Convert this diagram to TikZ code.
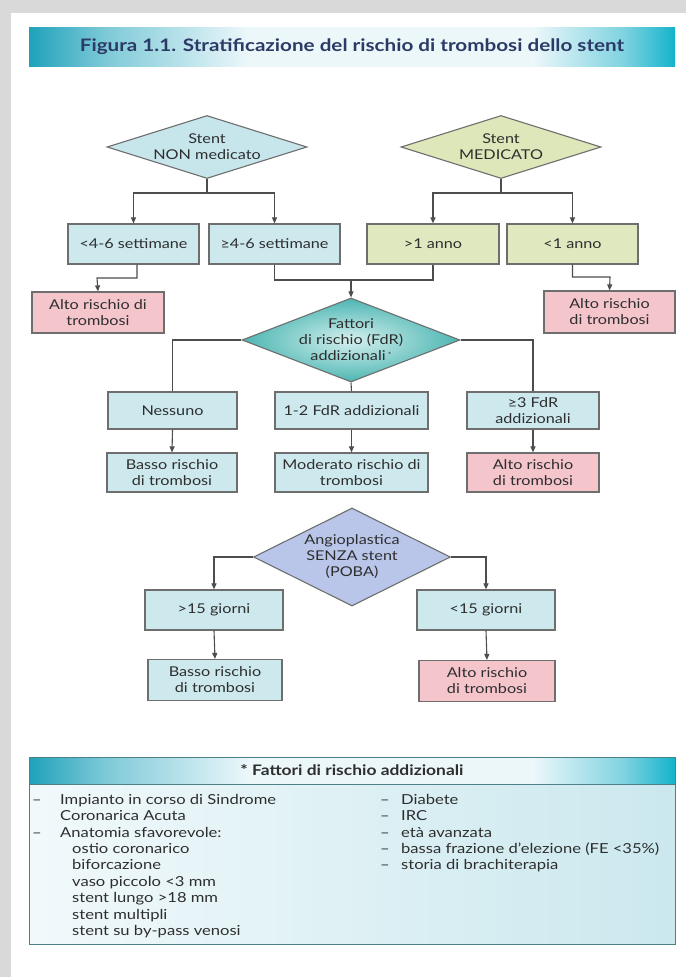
\documentclass[tikz,border=0pt]{standalone}
\usepackage{fontspec}
\setmainfont{Lato}[FakeStretch=1.2]
\usetikzlibrary{shapes.geometric,arrows.meta}
\definecolor{lineC}{HTML}{4D4D4D}
\definecolor{borderC}{HTML}{6E6E6E}
\definecolor{boxBlue}{HTML}{CDE9EE}
\definecolor{boxGreen}{HTML}{DFE8BF}
\definecolor{boxPink}{HTML}{F5C5CC}
\definecolor{dmdBlue}{HTML}{C6E6EC}
\definecolor{dmdGreen}{HTML}{DDE7B9}
\definecolor{dmdLav}{HTML}{B9C6E9}
\definecolor{fdrIn}{HTML}{D4F0EF}
\definecolor{fdrOut}{HTML}{4DB6B2}
\definecolor{tealDark}{HTML}{1FA2BA}
\definecolor{tealMidL}{HTML}{7FCAD8}
\definecolor{tealBright}{HTML}{14B3CB}
\definecolor{tealMidR}{HTML}{7FD3E0}
\definecolor{tealPale}{HTML}{ECF7FA}
\definecolor{navy}{HTML}{2C3A66}
\definecolor{txt}{HTML}{2E2E2E}
\definecolor{pageGray}{HTML}{D9D9D9}
\definecolor{footBorder}{HTML}{4E8088}
\definecolor{footL}{HTML}{F1F9FB}
\definecolor{footR}{HTML}{CBE8EE}
\pgfdeclarehorizontalshading{barshade}{100bp}{color(0bp)=(tealDark); color(25bp)=(tealDark); color(31bp)=(tealMidL); color(42bp)=(tealPale); color(64bp)=(tealPale); color(71bp)=(tealMidR); color(75bp)=(tealBright); color(100bp)=(tealBright)}
\newcommand{\bxfont}{\fontsize{13.5}{16}\selectfont}
\newcommand{\ftfont}{\fontsize{13.8}{16.4}\selectfont}
\begin{document}
\begin{tikzpicture}[x=1pt,y=-1pt,
  conn/.style={draw=lineC,line width=1.1pt},
  arr/.style={conn,-{Triangle[length=6pt,width=5pt]}},
  box/.style={rectangle,draw=borderC,line width=1.2pt,inner sep=0pt,align=center,font=\bxfont,text=txt},
  bluebox/.style={box,fill=boxBlue},
  greenbox/.style={box,fill=boxGreen},
  pinkbox/.style={box,fill=boxPink},
  dmd/.style={diamond,draw=borderC,line width=1.1pt,inner sep=-14pt,align=center,font=\bxfont,text=txt},
]
\useasboundingbox (0,0) rectangle (686,977);
\fill[pageGray] (0,0) rectangle (686,977);
\fill[white] (11,13) rectangle (686,977);

% title
\node[shade,shading=barshade,minimum width=646pt,minimum height=39pt,inner sep=0pt,
      font=\fontsize{17.2}{20}\selectfont\bfseries,text=navy] (title) at (352,46.5)
      {Figura 1.1. Stratificazione del rischio di trombosi dello stent};

% top diamonds
\node[dmd,fill=dmdBlue,minimum width=200pt,minimum height=63pt,aspect=3.2] (nonmed) at (207,147) {Stent\\NON medicato};
\node[dmd,fill=dmdGreen,minimum width=200pt,minimum height=63pt,aspect=3.2] (med) at (501,147) {Stent\\MEDICATO};

% row 1
\node[bluebox,minimum width=131pt,minimum height=40pt] (b1) at (133.5,244) {<4-6 settimane};
\node[bluebox,minimum width=131pt,minimum height=40pt] (b2) at (274.5,244) {≥4-6 settimane};
\node[greenbox,minimum width=132pt,minimum height=40pt] (b3) at (433,244) {>1 anno};
\node[greenbox,minimum width=131pt,minimum height=40pt] (b4) at (572.5,244) {<1 anno};

\node[pinkbox,minimum width=132pt,minimum height=41pt] (r1) at (98,312.5) {Alto rischio di\\trombosi};
\node[pinkbox,minimum width=131pt,minimum height=42pt] (r2) at (609.5,312) {Alto rischio\\di trombosi};

% FdR diamond
\node[dmd,inner color=fdrIn,outer color=fdrOut,minimum width=218pt,minimum height=84pt,aspect=2.6] (fdr) at (351,340)
  {Fattori\\di rischio (FdR)\\addizionali\,\raisebox{3pt}{\scriptsize*}};

\node[bluebox,minimum width=129pt,minimum height=37pt] (n1) at (172.5,410.5) {Nessuno};
\node[bluebox,minimum width=153pt,minimum height=37pt] (n2) at (351.5,410.5) {1-2 FdR addizionali};
\node[bluebox,minimum width=132pt,minimum height=37pt] (n3) at (533,410.5) {≥3 FdR\\addizionali};

\node[bluebox,minimum width=130pt,minimum height=39pt] (m1) at (172,472.5) {Basso rischio\\di trombosi};
\node[bluebox,minimum width=153pt,minimum height=39pt] (m2) at (351.5,472.5) {Moderato rischio di\\trombosi};
\node[pinkbox,minimum width=132pt,minimum height=39pt] (m3) at (533,472.5) {Alto rischio\\di trombosi};

% POBA
\node[dmd,fill=dmdLav,minimum width=197pt,minimum height=98pt,aspect=2] (poba) at (352,557) {Angioplastica\\SENZA stent\\(POBA)};

\node[bluebox,minimum width=138pt,minimum height=40pt] (p1) at (214,610) {>15 giorni};
\node[bluebox,minimum width=138pt,minimum height=40pt] (p2) at (486,610) {<15 giorni};
\node[bluebox,minimum width=134pt,minimum height=41pt] (q1) at (215,680) {Basso rischio\\di trombosi};
\node[pinkbox,minimum width=136pt,minimum height=41pt] (q2) at (487,681) {Alto rischio\\di trombosi};

% connectors
\coordinate (j1) at (207,193);
\coordinate (j2) at (501,193);
\coordinate (j3) at (351,280);
\draw[conn] (nonmed.south) -- (j1);
\draw[arr] (j1) -| (b1.north);
\draw[arr] (j1) -| (b2.north);
\draw[conn] (med.south) -- (j2);
\draw[arr] (j2) -| (b3.north);
\draw[arr] (j2) -| (b4.north);
\draw[arr] ([xshift=3.5pt]b1.south) |- (97,278) -- (r1.north);
\draw[conn] (b2.south) |- (j3);
\draw[conn] (b3.south) |- (j3);
\draw[arr] (j3) -- (fdr.north);
\draw[arr] (b4.south) |- (610,277) -- (r2.north);
\draw[conn] (fdr.west) -| (n1.north);
\draw[conn] (fdr.south) -- (n2.north);
\draw[conn] (fdr.east) -| (n3.north);
\draw[arr] (n1.south) -- (m1.north);
\draw[arr] (n2.south) -- (m2.north);
\draw[arr] (n3.south) -- (m3.north);
\draw[arr] (poba.west) -| (p1.north);
\draw[arr] (poba.east) -| (p2.north);
\draw[arr] (p1.south) -- (q1.north);
\draw[arr] (p2.south) -- (q2.north);

% footer
\node[left color=footL,right color=footR,draw=footBorder,line width=1pt,minimum width=646pt,minimum height=160pt,inner sep=0pt] (fbody) at (352,864) {};
\node[shade,shading=barshade,draw=footBorder,line width=1pt,minimum width=646pt,minimum height=27pt,inner sep=0pt,
      font=\fontsize{14.5}{16}\selectfont\bfseries,text=txt] (fhead) at (352,770.5) {* Fattori di rischio addizionali};
\node[anchor=north west,align=left,inner sep=0pt,font=\ftfont,text=txt] (fleft) at (32,794)
 {\makebox[28pt][l]{–}Impianto in corso di Sindrome\\
  \hspace*{28pt}Coronarica Acuta\\
  \makebox[28pt][l]{–}Anatomia sfavorevole:\\
  \hspace*{40pt}ostio coronarico\\
  \hspace*{40pt}biforcazione\\
  \hspace*{40pt}vaso piccolo <3 mm\\
  \hspace*{40pt}stent lungo >18 mm\\
  \hspace*{40pt}stent multipli\\
  \hspace*{40pt}stent su by-pass venosi};
\node[anchor=north west,align=left,inner sep=0pt,font=\ftfont,text=txt] (fright) at (380,794)
 {\makebox[21pt][l]{–}Diabete\\
  \makebox[21pt][l]{–}IRC\\
  \makebox[21pt][l]{–}età avanzata\\
  \makebox[21pt][l]{–}bassa frazione d’elezione (FE <35\%)\\
  \makebox[21pt][l]{–}storia di brachiterapia};
\end{tikzpicture}
\end{document}
